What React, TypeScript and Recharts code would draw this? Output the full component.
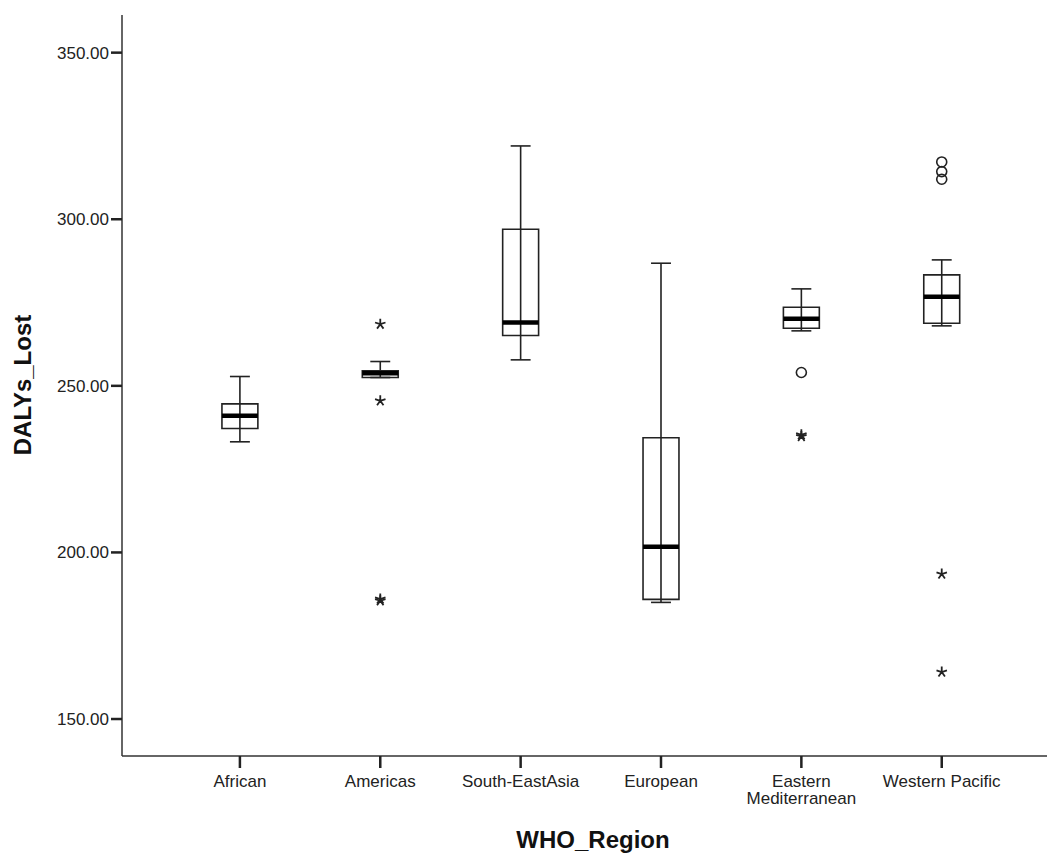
import React from "react";
import {
  ComposedChart,
  Scatter,
  XAxis,
  YAxis,
  ReferenceArea,
  ReferenceLine,
} from "recharts";

const regions = [
  "African",
  "Americas",
  "South-EastAsia",
  "European",
  "Eastern Mediterranean",
  "Western Pacific",
];
const lowWhisker = [233.2, 252.5, 257.8, 185.0, 266.5, 268.0];
const q1 = [237.2, 252.5, 265.1, 185.9, 267.3, 268.8];
const median = [241.0, 253.8, 269.0, 201.7, 270.1, 276.7];
const q3 = [244.6, 254.5, 297.0, 234.4, 273.6, 283.3];
const highWhisker = [252.8, 257.3, 322.0, 286.8, 279.1, 287.8];

// circles (outliers) and stars (extremes)
const outlierRegion = [4, 5, 5, 5];
const outlierValue = [254.0, 317.2, 314.3, 312.0];
const extremeRegion = [1, 1, 1, 1, 4, 4, 5, 5];
const extremeValue = [268.5, 245.5, 185.5, 186.0, 234.8, 235.3, 193.5, 164.1];

const yTicks = [150, 200, 250, 300, 350];

const X_DOMAIN: [number, number] = [-0.84, 5.75];
const Y_DOMAIN: [number, number] = [138.9, 361.3];
const BOX_HALF = 0.128;
const CAP_HALF = 0.071;
const INK = "#222";
const FONT = "'Liberation Sans', Arial, sans-serif";

const outliers = outlierRegion.map((r, i) => ({ x: r, y: outlierValue[i] }));
const extremes = extremeRegion.map((r, i) => ({ x: r, y: extremeValue[i] }));

function Circle(props: any) {
  return (
    <circle
      cx={props.cx}
      cy={props.cy}
      r={5}
      fill="none"
      stroke={INK}
      strokeWidth={1.6}
    />
  );
}

function Star(props: any) {
  const { cx, cy } = props;
  const r = 5.5;
  const arms = [-90, -18, 54, 126, 198].map((a) => {
    const t = (a * Math.PI) / 180;
    return `M${cx},${cy}L${cx + r * Math.cos(t)},${cy + r * Math.sin(t)}`;
  });
  return <path d={arms.join("")} stroke={INK} strokeWidth={1.8} fill="none" />;
}

function XTick(props: any) {
  const { x, y, payload } = props;
  const name = regions[payload.value] || "";
  const lines = name === "Eastern Mediterranean" ? ["Eastern", "Mediterranean"] : [name];
  return (
    <text
      x={x}
      y={y}
      textAnchor="middle"
      fontFamily={FONT}
      fontSize={17}
      fill="#222"
    >
      {lines.map((l, i) => (
        <tspan key={i} x={x} y={y + 17 + i * 17}>
          {l}
        </tspan>
      ))}
    </text>
  );
}

export default function App() {
  return (
    <div style={{ position: "absolute", left: 0, top: 0, background: "#fff" }}>
      <ComposedChart
        width={1049}
        height={854}
        margin={{ top: 15, right: 2, left: 0, bottom: 0 }}
      >
        <XAxis
          dataKey="x"
          type="number"
          domain={X_DOMAIN}
          allowDataOverflow
          ticks={[0, 1, 2, 3, 4, 5]}
          tick={<XTick />}
          tickSize={12}
          tickLine={{ stroke: "#222", strokeWidth: 2.5 }}
          axisLine={{ stroke: "#333", strokeWidth: 1.5 }}
          height={98}
          label={{
            content: () => (
              <text
                x={593}
                y={848}
                textAnchor="middle"
                fontFamily={FONT}
                fontWeight="bold"
                fontSize={24}
                fill="#111"
              >
                WHO_Region
              </text>
            ),
          }}
        />
        <XAxis
          xAxisId="top"
          orientation="top"
          type="number"
          domain={X_DOMAIN}
          allowDataOverflow
          tick={false}
          tickLine={false}
          height={0}
          axisLine={{ stroke: "#333", strokeWidth: 1.5 }}
        />
        <YAxis
          type="number"
          domain={Y_DOMAIN}
          allowDataOverflow
          ticks={yTicks}
          tickFormatter={(v: number) => v.toFixed(2)}
          tick={{ fontFamily: FONT, fontSize: 17, fill: "#222" }}
          tickSize={11}
          tickLine={{ stroke: "#222", strokeWidth: 2.5 }}
          axisLine={{ stroke: "#333", strokeWidth: 1.5 }}
          width={122}
          label={{
            content: () => (
              <text
                x={31}
                y={385}
                transform="rotate(-90 31 385)"
                textAnchor="middle"
                fontFamily={FONT}
                fontWeight="bold"
                fontSize={24}
                fill="#111"
              >
                DALYs_Lost
              </text>
            ),
          }}
        />
        <YAxis
          yAxisId="right"
          orientation="right"
          type="number"
          domain={Y_DOMAIN}
          allowDataOverflow
          tick={false}
          tickLine={false}
          width={0}
          axisLine={{ stroke: "#333", strokeWidth: 1.5 }}
        />

        {regions.map((_, i) => (
          <ReferenceLine
            key={`wl${i}`}
            segment={[
              { x: i, y: lowWhisker[i] },
              { x: i, y: highWhisker[i] },
            ]}
            stroke={INK}
            strokeWidth={1.6}
          />
        ))}
        {regions.map((_, i) => (
          <ReferenceLine
            key={`ch${i}`}
            segment={[
              { x: i - CAP_HALF, y: highWhisker[i] },
              { x: i + CAP_HALF, y: highWhisker[i] },
            ]}
            stroke={INK}
            strokeWidth={1.6}
          />
        ))}
        {regions.map((_, i) => (
          <ReferenceLine
            key={`cl${i}`}
            segment={[
              { x: i - CAP_HALF, y: lowWhisker[i] },
              { x: i + CAP_HALF, y: lowWhisker[i] },
            ]}
            stroke={INK}
            strokeWidth={1.6}
          />
        ))}
        {regions.map((_, i) => (
          <ReferenceArea
            key={`bx${i}`}
            x1={i - BOX_HALF}
            x2={i + BOX_HALF}
            y1={q1[i]}
            y2={q3[i]}
            fill="#fff"
            fillOpacity={1}
            stroke={INK}
            strokeWidth={1.6}
          />
        ))}
        {regions.map((_, i) => (
          <ReferenceLine
            key={`md${i}`}
            segment={[
              { x: i - BOX_HALF, y: median[i] },
              { x: i + BOX_HALF, y: median[i] },
            ]}
            stroke="#000"
            strokeWidth={4.5}
          />
        ))}

        <Scatter
          data={outliers}
          dataKey="y"
          shape={<Circle />}
          isAnimationActive={false}
        />
        <Scatter
          data={extremes}
          dataKey="y"
          shape={<Star />}
          isAnimationActive={false}
        />
      </ComposedChart>
    </div>
  );
}
